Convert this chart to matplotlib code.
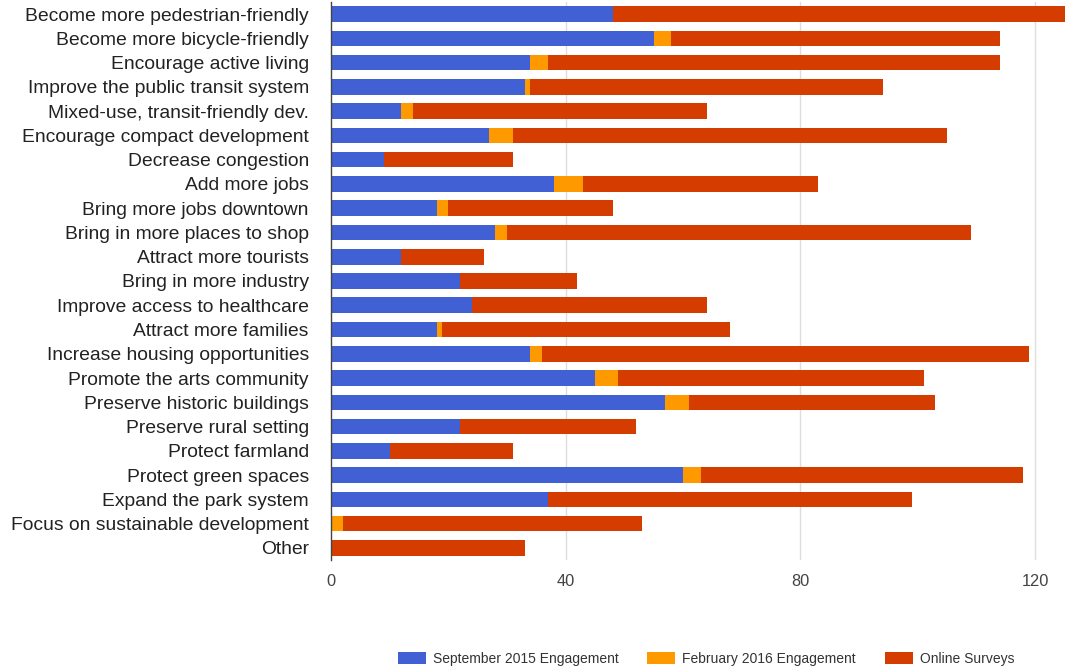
import matplotlib
matplotlib.use("Agg")
import matplotlib.pyplot as plt
from matplotlib.patches import Patch
import numpy as np

plt.rcParams['font.family'] = ['Liberation Sans', 'DejaVu Sans']

categories = [
    "Become more pedestrian-friendly",
    "Become more bicycle-friendly",
    "Encourage active living",
    "Improve the public transit system",
    "Mixed-use, transit-friendly dev.",
    "Encourage compact development",
    "Decrease congestion",
    "Add more jobs",
    "Bring more jobs downtown",
    "Bring in more places to shop",
    "Attract more tourists",
    "Bring in more industry",
    "Improve access to healthcare",
    "Attract more families",
    "Increase housing opportunities",
    "Promote the arts community",
    "Preserve historic buildings",
    "Preserve rural setting",
    "Protect farmland",
    "Protect green spaces",
    "Expand the park system",
    "Focus on sustainable development",
    "Other",
]

sept_2015 = [48, 55, 34, 33, 12, 27, 9, 38, 18, 28, 12, 22, 24, 18, 34, 45, 57, 22, 10, 60, 37, 0, 0]
feb_2016 = [0, 3, 3, 1, 2, 4, 0, 5, 2, 2, 0, 0, 0, 1, 2, 4, 4, 0, 0, 3, 0, 2, 0]
online = [80, 56, 77, 60, 50, 74, 22, 40, 28, 79, 14, 20, 40, 49, 83, 52, 42, 30, 21, 55, 62, 51, 33]

series_names = ["September 2015 Engagement", "February 2016 Engagement", "Online Surveys"]
colors = ["#4060d4", "#fe9a00", "#d43c00"]
x_ticks = [0, 40, 80, 120]

W, H = 1065, 671
fig = plt.figure(figsize=(W / 100, H / 100), dpi=100)
ax = fig.add_axes([331 / W, 111 / H, (W - 331) / W, 558 / H])

y = np.arange(len(categories))
left = np.zeros(len(categories))
for vals, col in zip([sept_2015, feb_2016, online], colors):
    vals = np.array(vals, dtype=float)
    ax.barh(y, vals, left=left, height=0.64, color=col, edgecolor='none', zorder=2)
    left += vals

ax.set_ylim(len(categories) - 0.5, -0.5)
ax.set_xlim(0, 125.1)
ax.set_yticks(y)
ax.set_yticklabels(categories, fontsize=13.9, color="#222222")
ax.set_xticks(x_ticks)
ax.set_xticklabels([str(t) for t in x_ticks], fontsize=11.8, color="#444444")
ax.tick_params(axis='y', length=0, pad=16)
ax.tick_params(axis='x', length=0, pad=10)
ax.grid(axis='x', color="#dddddd", linewidth=1, zorder=0)
ax.xaxis.get_gridlines()[0].set_visible(False)
for s in ['top', 'right', 'bottom']:
    ax.spines[s].set_visible(False)
ax.spines['left'].set_color("#444444")
ax.spines['left'].set_linewidth(1)
ax.spines['left'].set_zorder(3)

handles = [Patch(facecolor=c, edgecolor='none') for c in colors]
fig.legend(handles, series_names, loc='center', bbox_to_anchor=(706 / W, 12 / H),
           ncol=3, frameon=False, fontsize=10, handlelength=2.0, handleheight=0.95,
           handletextpad=0.5, columnspacing=2.1, labelcolor="#333333")

fig.savefig("out.png", dpi=100)
